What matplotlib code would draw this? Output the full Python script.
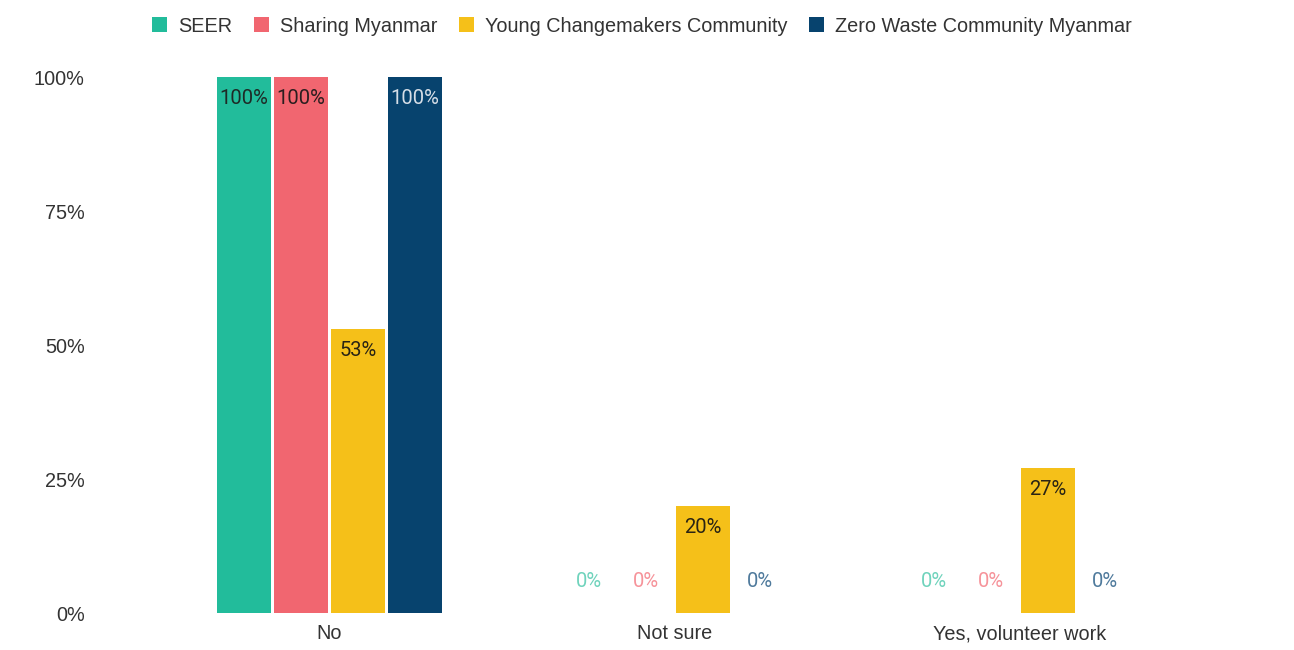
import matplotlib
matplotlib.use("Agg")
import matplotlib.pyplot as plt
import numpy as np

categories = ["No", "Not sure", "Yes, volunteer work"]
series_names = ["SEER", "Sharing Myanmar", "Young Changemakers Community", "Zero Waste Community Myanmar"]
seer = [100, 0, 0]
sharing = [100, 0, 0]
young = [53, 20, 27]
zero_waste = [100, 0, 0]
y_ticks = [0, 25, 50, 75, 100]
y_tick_labels = ["0%", "25%", "50%", "75%", "100%"]

colors = ["#22BC9B", "#F16670", "#F5C019", "#07436E"]
zero_label_colors = ["#6FD3BC", "#F6939A", "#F8D56A", "#4F7A9C"]
inside_label_colors = ["#1E2A26", "#2A1E1F", "#2A2414", "#D6DEE7"]

fig = plt.figure(figsize=(12.94, 6.5), dpi=100)
ax = fig.add_axes([0.1213, 0.0569, 0.7998, 0.8246])

x = np.arange(len(categories))
width = 0.157
step = 0.165
all_series = [seer, sharing, young, zero_waste]
for i, (vals, name) in enumerate(zip(all_series, series_names)):
    pos = x + (i - 1.5) * step
    bars = ax.bar(pos, vals, width=width, color=colors[i], label=name, zorder=2)
    for xp, v in zip(pos, vals):
        if v > 0:
            ax.annotate(f"{v}%", xy=(xp, v), xytext=(0, -15.5), textcoords="offset points",
                        ha="center", va="center", fontsize=14.5, family="Roboto",
                        color=inside_label_colors[i])
        else:
            ax.annotate(f"{v}%", xy=(xp, 0), xytext=(0, 23), textcoords="offset points",
                        ha="center", va="center", fontsize=14.5, family="Roboto",
                        color=zero_label_colors[i])

ax.set_xlim(-0.5, 2.5)
ax.set_ylim(0, 100)
ax.set_yticks(y_ticks)
ax.set_yticklabels(y_tick_labels, fontsize=14.3, family="Liberation Sans", color="#333333")
ax.set_xticks(x)
ax.set_xticklabels(categories, fontsize=14.3, family="Liberation Sans", color="#333333")
ax.tick_params(axis="both", length=0)
ax.tick_params(axis="y", pad=52)
ax.tick_params(axis="x", pad=8)
for s in ax.spines.values():
    s.set_visible(False)

handles, labels = ax.get_legend_handles_labels()
leg = fig.legend(handles, labels, loc="upper center", bbox_to_anchor=(0.496, 1.002), ncol=4,
                 frameon=False, prop={"family": "Liberation Sans", "size": 14.3},
                 handlelength=0.75, handleheight=0.75, handletextpad=0.55, columnspacing=1.1)
for t in leg.get_texts():
    t.set_color("#333333")

fig.savefig("out.png", dpi=100)
